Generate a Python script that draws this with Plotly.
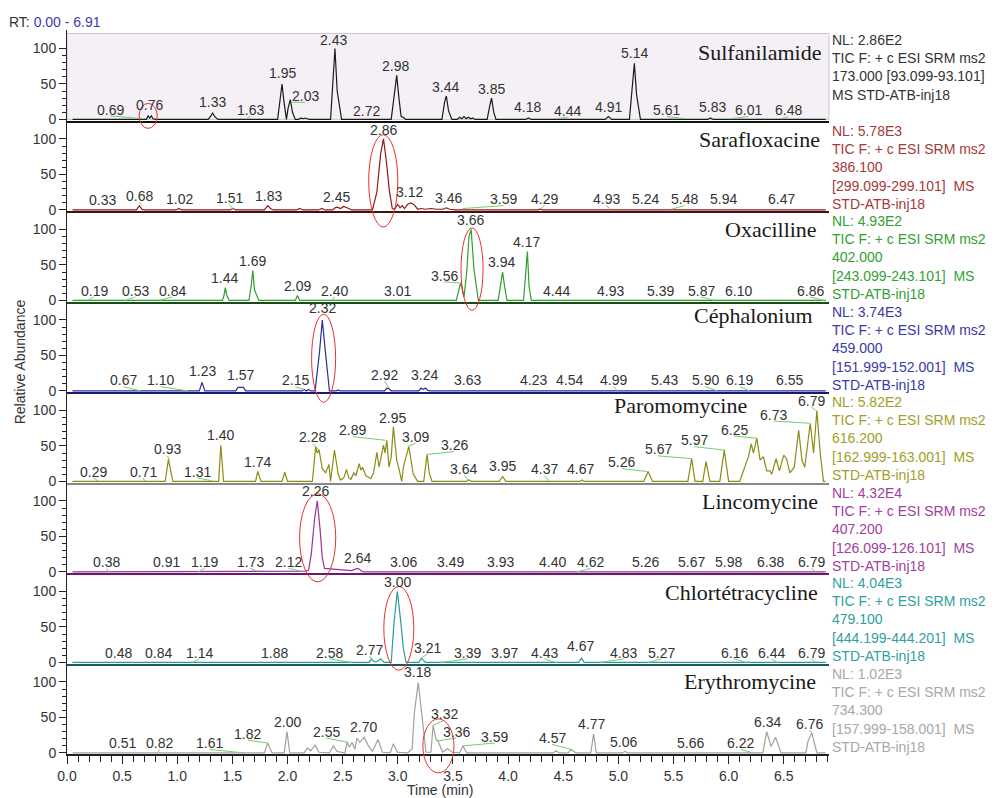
import plotly.graph_objects as go
from plotly.subplots import make_subplots

# ------------------------------------------------------------
# Chromatogram data (retention time in min, relative abundance in %)
# ------------------------------------------------------------
RT_MAX = 6.91
Y_LO, Y_HI = -1.5, 126.0

compounds = ["Sulfanilamide", "Sarafloxacine", "Oxacilline", "Céphalonium",
             "Paromomycine", "Lincomycine", "Chlortétracycline", "Erythromycine"]

nl_texts = [
    "NL: 2.86E2<br>TIC F: + c ESI SRM ms2<br>173.000 [93.099-93.101]<br>MS STD-ATB-inj18",
    "NL: 5.78E3<br>TIC F: + c ESI SRM ms2<br>386.100<br>[299.099-299.101] &nbsp;MS<br>STD-ATB-inj18",
    "NL: 4.93E2<br>TIC F: + c ESI SRM ms2<br>402.000<br>[243.099-243.101] &nbsp;MS<br>STD-ATB-inj18",
    "NL: 3.74E3<br>TIC F: + c ESI SRM ms2<br>459.000<br>[151.999-152.001] &nbsp;MS<br>STD-ATB-inj18",
    "NL: 5.82E2<br>TIC F: + c ESI SRM ms2<br>616.200<br>[162.999-163.001] &nbsp;MS<br>STD-ATB-inj18",
    "NL: 4.32E4<br>TIC F: + c ESI SRM ms2<br>407.200<br>[126.099-126.101] &nbsp;MS<br>STD-ATB-inj18",
    "NL: 4.04E3<br>TIC F: + c ESI SRM ms2<br>479.100<br>[444.199-444.201] &nbsp;MS<br>STD-ATB-inj18",
    "NL: 1.02E3<br>TIC F: + c ESI SRM ms2<br>734.300<br>[157.999-158.001] &nbsp;MS<br>STD-ATB-inj18",
]

sulfa_rt = [0.05, 0.70, 0.72, 0.735, 0.75, 0.765, 0.78, 0.80,
            1.28, 1.305, 1.32, 1.34, 1.37,
            1.91, 1.935, 1.95, 1.965, 1.99, 2.005, 2.025, 2.045, 2.07,
            2.10, 2.12, 2.14, 2.16, 2.18, 2.20,
            2.39, 2.41, 2.43, 2.45, 2.49,
            2.94, 2.965, 2.99, 3.01, 3.03, 3.05, 3.07,
            3.40, 3.425, 3.44, 3.46, 3.49,
            3.54, 3.56, 3.58, 3.60, 3.62, 3.64, 3.66, 3.68, 3.70, 3.72,
            3.81, 3.835, 3.85, 3.87, 3.89,
            4.16, 4.185, 4.21,
            4.88, 4.91, 4.94,
            5.10, 5.125, 5.145, 5.165, 5.20,
            5.81, 5.835, 5.86, 6.88]
sulfa_ab = [0, 0, 0, 5, 2, 5, 1, 0,
            0, 5, 9, 4, 0,
            0, 30, 50, 28, 0, 16, 28, 10, 0,
            0, 2, 1, 2, 1, 0,
            0, 45, 100, 40, 0,
            0, 35, 62, 30, 4, 3, 0,
            0, 25, 33, 12, 0,
            0, 3, 1, 4, 1, 3, 1, 2, 0, 0,
            0, 20, 30, 10, 0,
            0, 2, 0,
            0, 4, 0,
            0, 40, 79, 35, 0,
            0, 2, 0, 0]

sara_rt = [0.05, 0.63, 0.655, 0.68, 0.70,
           0.99, 1.015, 1.04,
           1.48, 1.505, 1.53,
           1.79, 1.82, 1.845, 1.87,
           2.08, 2.11, 2.14, 2.28, 2.31, 2.34,
           2.41, 2.43, 2.45, 2.48, 2.51, 2.54, 2.58,
           2.77, 2.81, 2.845, 2.87, 2.895, 2.925, 2.95,
           2.97, 3.00, 3.02, 3.04, 3.06, 3.09, 3.12, 3.15, 3.18, 3.21, 3.25, 3.30,
           3.35, 3.41, 3.44, 3.47, 3.52,
           4.27, 4.29, 4.31, 4.91, 4.93, 4.95, 6.88]
sara_ab = [0, 0, 6, 1, 0,
           0, 2, 0,
           0, 2, 0,
           0, 6, 2, 0,
           0, 2, 0, 0, 2, 0,
           0, 3, 4, 2, 5, 3, 0,
           0, 25, 80, 100, 70, 25, 2,
           1, 8, 3, 6, 2, 8, 10, 7, 1, 2, 1, 2,
           1, 1, 3, 1, 0,
           0, 1, 0, 0, 1, 0, 0]

oxa_rt = [0.05, 1.41, 1.425, 1.435, 1.45, 1.47,
          1.65, 1.67, 1.685, 1.70, 1.74,
          2.07, 2.09, 2.11,
          3.53, 3.55, 3.57, 3.60, 3.625, 3.645, 3.665, 3.69, 3.73,
          3.91, 3.93, 3.95, 3.97, 3.99,
          4.14, 4.16, 4.175, 4.19, 4.21, 6.88]
oxa_ab = [0, 0, 8, 18, 7, 0,
          0, 20, 42, 15, 0,
          0, 7, 0,
          0, 12, 25, 5, 40, 90, 100, 45, 0,
          0, 20, 40, 18, 0,
          0, 35, 69, 20, 0, 0]

ceph_rt = [0.05, 1.20, 1.225, 1.25,
           1.53, 1.55, 1.60, 1.62,
           2.13, 2.15, 2.17, 2.19, 2.21,
           2.25, 2.29, 2.315, 2.34, 2.38,
           2.44, 2.46, 2.48,
           2.88, 2.90, 2.92, 2.94,
           3.19, 3.21, 3.23, 3.25, 3.27, 3.29, 6.88]
ceph_ab = [0, 0, 12, 0,
           0, 5, 5, 0,
           0, 2, 0, 2, 0,
           0, 55, 100, 60, 0,
           0, 1, 0,
           0, 4, 3, 0,
           0, 4, 2, 4, 1, 0, 0]

paro_rt = [0.05, 0.89, 0.92, 0.96,
           1.375, 1.395, 1.42,
           1.71, 1.73, 1.76,
           1.95, 1.975, 2.00,
           2.19, 2.225, 2.255, 2.27, 2.285, 2.315, 2.345, 2.375, 2.39, 2.425,
           2.46, 2.48, 2.51, 2.535, 2.555, 2.575, 2.60, 2.62, 2.65, 2.665,
           2.68, 2.71, 2.735, 2.755, 2.78, 2.81, 2.83, 2.85, 2.87, 2.885,
           2.90, 2.92, 2.94, 2.96, 2.975, 2.99, 3.01, 3.035, 3.05, 3.06,
           3.075, 3.10, 3.12, 3.14, 3.18,
           3.235, 3.265, 3.285, 3.31,
           3.62, 3.645, 3.67,
           3.92, 3.95, 3.98,
           4.35, 4.37, 4.39,
           4.65, 4.67, 4.69,
           5.23, 5.27, 5.31,
           5.63, 5.665, 5.695,
           5.765, 5.795, 5.83,
           5.92, 5.96, 6.00,
           6.10, 6.18, 6.205, 6.225, 6.255, 6.285, 6.315, 6.345, 6.375, 6.39,
           6.43, 6.46, 6.50, 6.525, 6.555, 6.595, 6.635, 6.665, 6.69, 6.74,
           6.77, 6.80, 6.83, 6.86, 6.88]
paro_ab = [0, 0, 31, 0,
           0, 51, 0,
           0, 14, 0,
           0, 13, 0,
           0, 0, 49, 40, 45, 18, 12, 24, 0, 44,
           10, 2, 5, 17, 5, 3, 12, 8, 25, 16,
           20, 8, 6, 4, 12, 41, 20, 35, 51, 40,
           58, 20, 35, 77, 50, 30, 18, 0, 20, 25,
           35, 49, 30, 10, 0,
           0, 38, 12, 0,
           0, 2, 0,
           0, 7, 0,
           0, 1, 0,
           0, 2, 0,
           0, 14, 0,
           0, 32, 0,
           0, 28, 0,
           0, 44, 0,
           0, 35, 53, 40, 61, 30, 35, 15, 15, 10,
           32, 15, 37, 32, 12, 20, 72, 30, 20, 82,
           40, 100, 40, 0, 0]

linco_rt = [0.05, 1.70, 1.73, 1.76, 1.83, 1.85, 1.87,
            2.10, 2.15, 2.19, 2.215, 2.245, 2.27, 2.295, 2.315, 2.335,
            2.40, 2.50, 2.58, 2.615, 2.64, 2.665, 2.69, 6.88]
linco_ab = [0, 0, 1, 0, 0, 1, 0,
            0, 1, 2, 25, 75, 100, 60, 20, 5,
            4, 3, 2, 4, 5, 2, 0, 0]

chlor_rt = [0.05, 1.86, 1.88, 1.90,
            2.74, 2.76, 2.785, 2.81, 2.845, 2.875,
            2.94, 2.965, 2.995, 3.025, 3.05, 3.075,
            3.19, 3.215, 3.25,
            4.64, 4.665, 4.69, 6.88]
chlor_ab = [0, 0, 1, 0,
            0, 5, 1, 1, 5, 0,
            0, 55, 100, 60, 20, 0,
            0, 6, 0,
            0, 6, 0, 0]

ery_rt = [0.05, 1.79, 1.82, 1.86,
          1.97, 1.995, 2.02,
          2.15, 2.18, 2.21, 2.25, 2.285,
          2.38, 2.415, 2.45,
          2.52, 2.54, 2.56, 2.585, 2.61, 2.63, 2.655, 2.695, 2.73, 2.77, 2.82, 2.86,
          2.93, 2.96, 2.995,
          3.09, 3.13, 3.15, 3.185, 3.21, 3.235, 3.255, 3.30, 3.32, 3.345, 3.37,
          3.405, 3.45, 3.495,
          3.56, 3.59, 3.625,
          4.41, 4.435, 4.465, 4.545, 4.57, 4.615,
          4.75, 4.775, 4.80,
          5.035, 5.06, 5.085,
          6.31, 6.345, 6.385, 6.425, 6.475,
          6.70, 6.72, 6.755, 6.80, 6.88]
ery_ab = [0, 0, 14, 0,
          0, 30, 0,
          0, 7, 3, 11, 1,
          0, 10, 2,
          0, 15, 8, 15, 5, 21, 15, 22, 11, 2, 19, 1,
          0, 13, 1,
          0, 6, 57, 99, 65, 32, 1, 1, 39, 20, 15,
          1, 6, 1,
          0, 10, 0,
          0, 3, 0, 0, 5, 0,
          0, 27, 0,
          0, 2, 0,
          0, 30, 9, 22, 0,
          0, 17, 28, 0, 0]

# peak labels: (text, label rt, label abundance, peak abundance at the labelled rt)
sulfa_labels = [("0.69", 0.39, 14, 1), ("0.76", 0.745, 20, 5), ("1.33", 1.32, 24, 9),
                ("1.63", 1.66, 14, 1), ("1.95", 1.95, 65, 50), ("2.03", 2.16, 33, 24),
                ("2.43", 2.42, 112, 100), ("2.72", 2.72, 12, 1), ("2.98", 2.98, 75, 62),
                ("3.44", 3.43, 46, 33), ("3.85", 3.85, 43, 30), ("4.18", 4.18, 17, 2),
                ("4.44", 4.54, 12, 1), ("4.91", 4.91, 17, 4), ("5.14", 5.15, 93, 79),
                ("5.61", 5.44, 13, 1), ("5.83", 5.85, 17, 2), ("6.01", 6.18, 13, 1),
                ("6.48", 6.54, 13, 1)]
sara_labels = [("0.33", 0.32, 14, 0), ("0.68", 0.655, 20, 6), ("1.02", 1.02, 15, 2),
               ("1.51", 1.47, 17, 1), ("1.83", 1.83, 20, 6), ("2.45", 2.44, 18, 4),
               ("2.86", 2.87, 112, 100), ("3.12", 3.11, 25, 10), ("3.46", 3.46, 17, 3),
               ("3.59", 3.96, 15, 2), ("4.29", 4.33, 15, 1), ("4.93", 4.89, 15, 1),
               ("5.24", 5.25, 15, 1), ("5.48", 5.60, 15, 1), ("5.94", 5.95, 15, 1),
               ("6.47", 6.48, 15, 1)]
oxa_labels = [("0.19", 0.245, 14, 0), ("0.53", 0.62, 14, 0), ("0.84", 0.955, 14, 0),
              ("1.44", 1.43, 32, 18), ("1.69", 1.68, 56, 42), ("2.09", 2.09, 20, 7),
              ("2.40", 2.43, 14, 1), ("3.01", 3.00, 14, 0), ("3.56", 3.42, 35, 25),
              ("3.66", 3.66, 114, 100), ("3.94", 3.94, 54, 40), ("4.17", 4.17, 83, 69),
              ("4.44", 4.44, 14, 0), ("4.93", 4.93, 14, 0), ("5.39", 5.38, 14, 0),
              ("5.87", 5.75, 14, 0), ("6.10", 6.09, 14, 0), ("6.86", 6.74, 14, 0)]
ceph_labels = [("0.67", 0.51, 15, 0), ("1.10", 0.85, 15, 0), ("1.23", 1.23, 28, 12),
               ("1.57", 1.57, 23, 5), ("2.15", 2.07, 15, 2), ("2.32", 2.32, 117, 100),
               ("2.92", 2.88, 23, 4), ("3.24", 3.24, 23, 4), ("3.63", 3.63, 15, 0),
               ("4.23", 4.23, 15, 0), ("4.54", 4.56, 15, 0), ("4.99", 4.96, 15, 0),
               ("5.43", 5.42, 15, 0), ("5.90", 5.79, 15, 0), ("6.19", 6.10, 15, 0),
               ("6.55", 6.55, 15, 0)]
paro_labels = [("0.29", 0.24, 14, 0), ("0.71", 0.69, 14, 0), ("0.93", 0.91, 45, 31),
               ("1.31", 1.18, 14, 1), ("1.40", 1.39, 66, 51), ("1.74", 1.73, 28, 14),
               ("2.28", 2.23, 62, 45), ("2.89", 2.59, 72, 58), ("2.95", 2.95, 90, 77),
               ("3.09", 3.16, 63, 49), ("3.26", 3.51, 51, 38), ("3.64", 3.60, 18, 2),
               ("3.95", 3.95, 22, 7), ("4.37", 4.33, 17, 1), ("4.67", 4.66, 17, 2),
               ("5.26", 5.03, 27, 14), ("5.67", 5.36, 45, 32), ("5.97", 5.69, 58, 44),
               ("6.25", 6.05, 73, 61), ("6.73", 6.41, 94, 82), ("6.79", 6.75, 114, 100)]
linco_labels = [("0.38", 0.36, 14, 0), ("0.91", 0.90, 14, 0), ("1.19", 1.25, 14, 0),
                ("1.73", 1.66, 14, 1), ("2.12", 2.01, 14, 1), ("2.26", 2.25, 114, 100),
                ("2.64", 2.63, 20, 5), ("3.06", 3.05, 14, 0), ("3.49", 3.48, 14, 0),
                ("3.93", 3.93, 14, 0), ("4.40", 4.40, 14, 0), ("4.62", 4.75, 14, 0),
                ("5.26", 5.25, 14, 0), ("5.67", 5.66, 14, 0), ("5.98", 6.00, 14, 0),
                ("6.38", 6.38, 14, 0), ("6.79", 6.75, 14, 0)]
chlor_labels = [("0.48", 0.47, 14, 0), ("0.84", 0.83, 14, 0), ("1.14", 1.20, 14, 0),
                ("1.88", 1.88, 14, 1), ("2.58", 2.38, 14, 0), ("2.77", 2.74, 17, 5),
                ("3.00", 3.00, 113, 100), ("3.21", 3.27, 21, 6), ("3.39", 3.63, 14, 0),
                ("3.97", 3.97, 14, 0), ("4.43", 4.33, 14, 0), ("4.67", 4.66, 23, 6),
                ("4.83", 5.05, 14, 0), ("5.27", 5.39, 14, 0), ("6.16", 6.05, 14, 0),
                ("6.44", 6.39, 14, 0), ("6.79", 6.75, 14, 0)]
ery_labels = [("0.51", 0.50, 14, 0), ("0.82", 0.84, 14, 0), ("1.61", 1.29, 14, 0),
              ("1.82", 1.64, 27, 14), ("2.00", 2.00, 44, 30), ("2.55", 2.35, 30, 15),
              ("2.70", 2.69, 37, 22), ("3.18", 3.18, 114, 99), ("3.32", 3.42, 55, 39),
              ("3.36", 3.53, 30, 17), ("3.59", 3.88, 23, 10), ("4.57", 4.40, 21, 5),
              ("4.77", 4.76, 41, 27), ("5.06", 5.05, 15, 2), ("5.66", 5.65, 14, 0),
              ("6.22", 6.11, 14, 0), ("6.34", 6.35, 44, 30), ("6.76", 6.73, 41, 28)]

# compound name placement per panel: (right edge rt, abundance level)
name_pos = [(6.86, 94), (6.85, 99), (6.82, 100), (6.78, 106),
            (6.18, 107), (6.83, 99), (6.83, 99), (6.81, 100)]

# highlighted target peak per panel: (panel, rt centre, abundance centre, rt radius, abundance radius)
highlights = [(0, 0.736, 5, 0.082, 17.6), (1, 2.868, 41, 0.132, 65), (2, 3.673, 44, 0.100, 58),
              (3, 2.327, 46, 0.109, 62), (5, 2.273, 48, 0.164, 62), (6, 3.009, 48, 0.136, 59),
              (7, 3.368, 10, 0.141, 38)]

series = [(sulfa_rt, sulfa_ab, sulfa_labels), (sara_rt, sara_ab, sara_labels),
          (oxa_rt, oxa_ab, oxa_labels), (ceph_rt, ceph_ab, ceph_labels),
          (paro_rt, paro_ab, paro_labels), (linco_rt, linco_ab, linco_labels),
          (chlor_rt, chlor_ab, chlor_labels), (ery_rt, ery_ab, ery_labels)]

trace_colors = ["#1a1a1a", "#8b1a1a", "#2f9e2f", "#2b2b99",
                "#8c8c14", "#993399", "#2b9b9b", "#a0a0a0"]
text_colors = ["#333333", "#a33a3a", "#33a033", "#3a3aa5",
               "#a0a028", "#a040a0", "#30a0a0", "#a8a8a8"]
base_colors = ["#111111", "#4a1010", "#1a4a1a", "#1a1a6e",
               "#888888", "#6a1a6a", "#1a5a5a", "#222222"]

FONT = "Arial, Liberation Sans, sans-serif"
N = len(series)

fig = make_subplots(rows=N, cols=1, shared_xaxes=True, vertical_spacing=0)


def ref(name, i):
    return name if i == 0 else f"{name}{i + 1}"


# panel 1 is shaded like the selected trace in Xcalibur
fig.add_shape(type="rect", xref="x domain", yref="y domain", x0=0, x1=1, y0=0.012, y1=0.962,
              fillcolor="#f4f0f6", line=dict(color="#c8c8c8", width=1), layer="below")

for i, (rts, abund, labels) in enumerate(series):
    row = i + 1
    fig.add_trace(go.Scatter(x=rts, y=abund, mode="lines", hoverinfo="skip", showlegend=False,
                             line=dict(color=trace_colors[i], width=1.2)), row=row, col=1)
    fig.update_yaxes(row=row, col=1, range=[Y_LO, Y_HI], tickvals=[0, 50, 100],
                     ticks="outside", ticklen=7, tickcolor="#222",
                     minor=dict(tickvals=[10, 20, 30, 40, 60, 70, 80, 90], ticks="outside",
                                ticklen=4, tickcolor="#222"),
                     showline=True, linecolor="#222", linewidth=1, showgrid=False,
                     zeroline=False, tickfont=dict(family=FONT, size=14, color="#333"))
    fig.update_xaxes(row=row, col=1, range=[0, RT_MAX], showline=True,
                     linecolor=base_colors[i], linewidth=2, showgrid=False, zeroline=False)

    xr, yr = ref("x", i), ref("y", i)
    for text, lx, ly, ph in labels:
        fig.add_annotation(x=lx, y=ly, xref=xr, yref=yr, text=text, showarrow=False,
                           xanchor="center", yanchor="middle",
                           font=dict(family=FONT, size=14, color="#333"))
        pk = float(text)
        if abs(lx - pk) > 0.02:
            # green leader line from the peak to the bottom of its label
            fig.add_shape(type="line", xref=xr, yref=yr, x0=pk, y0=ph, x1=lx, y1=ly - 9,
                          line=dict(color="#6fd06f", width=1))

    nx, ny = name_pos[i]
    fig.add_annotation(x=nx, y=ny, xref=xr, yref=yr, text=compounds[i], showarrow=False,
                       xanchor="right", yanchor="middle",
                       font=dict(family="Liberation Serif, Times New Roman, serif", size=22,
                                 color="#1a1a1a"))
    fig.add_annotation(x=1, y=1, xref="paper", yref=f"{yr} domain", text=nl_texts[i],
                       showarrow=False, xanchor="left", yanchor="top", align="left", xshift=1,
                       font=dict(family=FONT, size=14, color=text_colors[i]))

# red ellipses round the target peaks
span = Y_HI - Y_LO
for p, c, v, rx, ry in highlights:
    fig.add_shape(type="circle", xref="x domain", yref=f"{ref('y', p)} domain",
                  x0=(c - rx) / RT_MAX, x1=(c + rx) / RT_MAX,
                  y0=(v - ry - Y_LO) / span, y1=(v + ry - Y_LO) / span,
                  line=dict(color="#e83030", width=1))

fig.update_xaxes(row=N, col=1, ticks="outside", ticklen=8, tickcolor="#222", dtick=0.5, tick0=0,
                 tickformat=".1f", showticklabels=True,
                 minor=dict(dtick=0.1, ticks="outside", ticklen=6, tickcolor="#222"),
                 tickfont=dict(family=FONT, size=14, color="#333"))

fig.add_annotation(x=0.4895, y=-0.0497, xref="paper", yref="paper", text="Time (min)",
                   showarrow=False, xanchor="center", yanchor="middle",
                   font=dict(family=FONT, size=14, color="#333"))
fig.add_annotation(x=0, y=0.541, xref="paper", yref="paper", text="Relative Abundance",
                   showarrow=False, textangle=-90, xshift=-47, xanchor="center", yanchor="middle",
                   font=dict(family=FONT, size=14, color="#333"))
fig.add_annotation(x=0, y=1.011, xref="paper", yref="paper", xanchor="left", yanchor="middle",
                   xshift=-60, showarrow=False,
                   text="RT: <span style='color:#3a3ab0'>0.00 - 6.91</span>",
                   font=dict(family=FONT, size=14, color="#333"))

fig.update_layout(width=1006, height=798, margin=dict(l=67, r=177, t=30, b=44),
                  plot_bgcolor="white", paper_bgcolor="white", hovermode=False,
                  showlegend=False)

fig.write_html("out.html", config={"displayModeBar": False},
               post_script="document.body.style.margin='0';")
